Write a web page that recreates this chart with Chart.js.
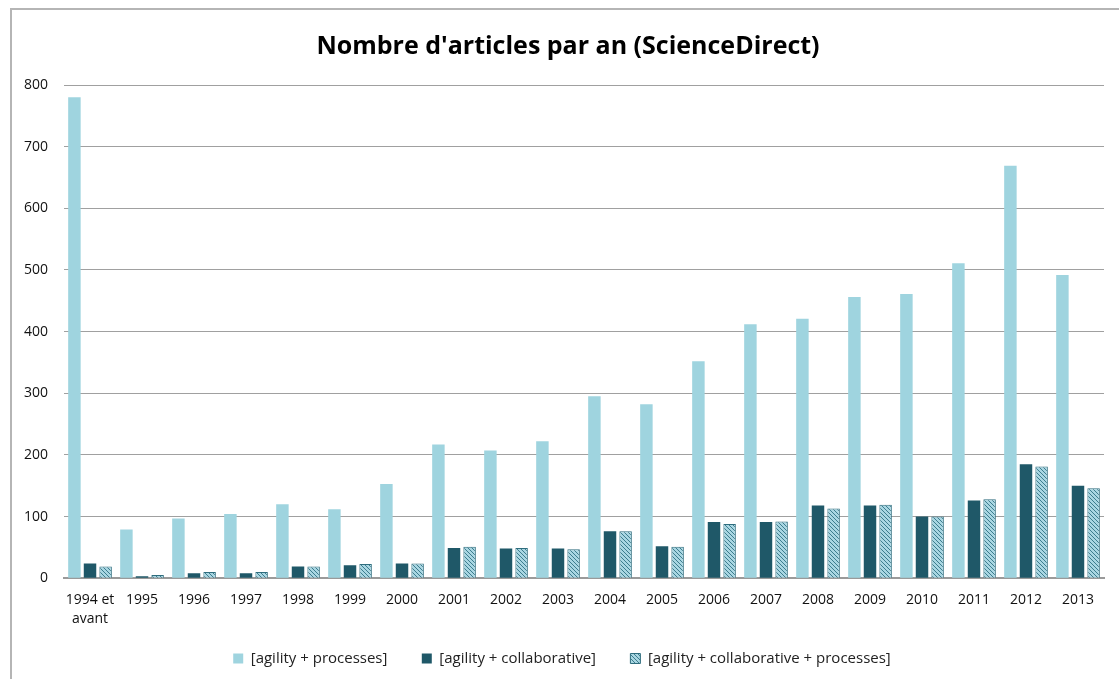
<!DOCTYPE html>
<html>
<head>
<meta charset="utf-8">
<script src="https://cdn.jsdelivr.net/npm/chart.js@4.4.1/dist/chart.umd.min.js"></script>
<style>
  body { margin: 0; background: #fff; }
  .frame {
    position: absolute; left: 10px; top: 8px; width: 1120px; height: 680px;
    border-top: 2px solid #b5b5b5; border-left: 2px solid #b5b5b5;
  }
  .chart-box { position: absolute; left: 0px; top: 8px; width: 1108px; height: 671px; }
</style>
</head>
<body>
<div class="frame"></div>
<div class="chart-box"><canvas id="chart"></canvas></div>
<script>
const years = [["1994 et", "avant"], "1995", "1996", "1997", "1998", "1999", "2000", "2001", "2002", "2003",
  "2004", "2005", "2006", "2007", "2008", "2009", "2010", "2011", "2012", "2013"];
const agilityProcesses = [780, 79, 97, 104, 120, 112, 153, 217, 207, 222, 295, 282, 352, 412, 421, 456, 461, 511, 669, 492];
const agilityCollab = [24, 3, 8, 8, 19, 21, 24, 49, 48, 48, 76, 52, 91, 91, 118, 118, 100, 126, 185, 150];
const agilityCollabProcesses = [19, 5, 10, 10, 19, 23, 24, 51, 49, 47, 76, 51, 88, 92, 113, 119, 100, 128, 181, 146];
const yTicks = [0, 100, 200, 300, 400, 500, 600, 700, 800];

// diagonal hatch for third series
function makeHatch() {
  const c = document.createElement("canvas");
  c.width = 4; c.height = 4;
  const g = c.getContext("2d");
  g.fillStyle = "#a9d6e2";
  g.fillRect(0, 0, 4, 4);
  g.strokeStyle = "#3d7d8e";
  g.lineWidth = 1;
  g.beginPath();
  g.moveTo(0, 0); g.lineTo(4, 4);
  g.moveTo(-1, 3); g.lineTo(1, 5);
  g.moveTo(3, -1); g.lineTo(5, 1);
  g.stroke();
  return g.createPattern(c, "repeat");
}

// title and legend sit a bit right of the canvas centre in the original
const nudgeBoxes = {
  id: "nudgeBoxes",
  afterLayout(chart) {
    if (chart.titleBlock) { chart.titleBlock.left += 12; chart.titleBlock.right += 12; }
    if (chart.legend) chart.legend._nudged = false;
  },
  beforeDraw(chart) {
    const l = chart.legend;
    if (l && !l._nudged) { l.left += 6; l.right += 6; l._nudged = true; }
  },
};

const font = "'Open Sans', 'DejaVu Sans', sans-serif";
const ctx = document.getElementById("chart").getContext("2d");
new Chart(ctx, {
  type: "bar",
  plugins: [nudgeBoxes],
  data: {
    labels: years,
    datasets: [
      {
        label: "[agility + processes]",
        data: agilityProcesses,
        backgroundColor: "#9fd4df",
        borderWidth: 0,
      },
      {
        label: "[agility + collaborative]",
        data: agilityCollab,
        backgroundColor: "#1f5868",
        borderWidth: 0,
      },
      {
        label: "[agility + collaborative + processes]",
        data: agilityCollabProcesses,
        backgroundColor: makeHatch(),
        borderColor: "#2f6d7e",
        borderWidth: 1,
      },
    ],
  },
  options: {
    responsive: true,
    maintainAspectRatio: false,
    animation: false,
    layout: { padding: { left: 8, right: 4, top: 8, bottom: 3 } },
    datasets: { bar: { categoryPercentage: 0.9, barPercentage: 0.8 } },
    plugins: {
      title: {
        display: true,
        text: "Nombre d'articles par an (ScienceDirect)",
        color: "#000",
        font: { family: font, size: 25, weight: "bold" },
        padding: { top: 16, bottom: 23 },
      },
      legend: {
        position: "bottom",
        labels: {
          color: "#222",
          font: { family: font, size: 15 },
          boxWidth: 10,
          boxHeight: 10,
          padding: 11,
          generateLabels: (chart) => {
            const items = Chart.defaults.plugins.legend.labels.generateLabels(chart);
            // wider gap between entries, like the original
            items.forEach((it, i) => { if (i < items.length - 1) it.text += "      "; });
            return items;
          },
        },
      },
      tooltip: { enabled: false },
    },
    scales: {
      x: {
        grid: { display: false, drawTicks: false },
        border: { color: "#9a9a9a", width: 2 },
        ticks: {
          color: "#111",
          font: { family: font, size: 14, lineHeight: 1.35 },
          maxRotation: 0,
          autoSkip: false,
          padding: 12,
        },
      },
      y: {
        min: 0,
        max: 800,
        afterBuildTicks: (axis) => { axis.ticks = yTicks.map((v) => ({ value: v })); },
        grid: { color: "#a0a0a0", lineWidth: 1, drawTicks: false },
        border: { display: false },
        ticks: {
          color: "#111",
          font: { family: font, size: 14 },
          padding: 16,
        },
      },
    },
  },
});
</script>
</body>
</html>
